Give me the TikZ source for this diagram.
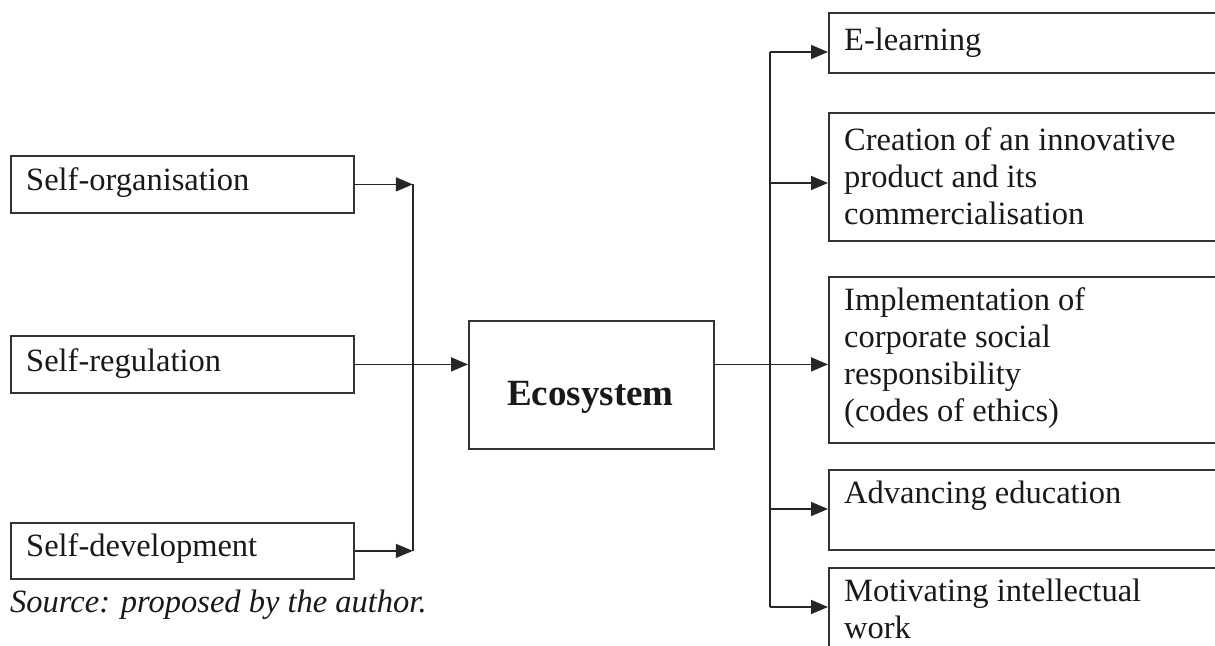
\documentclass[tikz,border=0pt]{standalone}
\usepackage{fontspec}
\setmainfont{Liberation Serif}
\usetikzlibrary{arrows.meta}
\begin{document}
\begin{tikzpicture}[x=1pt,y=-1pt,
  box/.style={draw=black!80, line width=1.8pt, rectangle, inner sep=0pt, anchor=north west},
  txt/.style={inner sep=0pt, anchor=north west, align=left, text=black!90, font=\fontsize{32.5}{37}\selectfont},
  conn/.style={draw=black!85, line width=1.7pt},
  arr/.style={conn, -{Triangle[length=17pt,width=14pt]}},
]
\useasboundingbox (0,0) rectangle (1215,645);
% left boxes
\node[box, minimum width=343pt, minimum height=57pt] (so) at (10,155) {};
\node[box, minimum width=343pt, minimum height=57pt] (sr) at (10,335) {};
\node[box, minimum width=343pt, minimum height=56pt] (sd) at (10,522) {};
\node[txt] (sot) at (26,167) {Self-organisation};
\node[txt] (srt) at (26,348) {Self-regulation};
\node[txt] (sdt) at (26,533) {Self-development};
% centre
\node[box, minimum width=245pt, minimum height=128pt] (eco) at (468,320) {};
\node[inner sep=0pt, anchor=base, text=black!90, font=\fontsize{37}{40}\selectfont\bfseries] (ecot) at (590.5,405) {Ecosystem};
% right boxes
\node[box, minimum width=397pt, minimum height=60pt] (el) at (828,12) {};
\node[box, minimum width=397pt, minimum height=128pt] (cr) at (828,112) {};
\node[box, minimum width=397pt, minimum height=166pt] (im) at (828,276) {};
\node[box, minimum width=397pt, minimum height=80pt] (ad) at (828,469) {};
\node[box, minimum width=397pt, minimum height=100pt] (mo) at (828,567) {};
\node[txt] (elt) at (844,28) {E-learning};
\node[txt] (crt) at (844,127) {Creation of an innovative\\product and its\\commercialisation};
\node[txt] (imt) at (844,287) {Implementation of\\corporate social\\responsibility\\(codes of ethics)};
\node[txt] (adt) at (844,481) {Advancing education};
\node[txt] (mot) at (844,579) {Motivating intellectual\\work};
% source
\node[inner sep=0pt, anchor=base west, text=black!90, font=\fontsize{32.5}{37}\selectfont\itshape] (src) at (10,612) {Source: proposed by the author.};
% left connectors
\draw[arr] (so.east) -- ++(58,0) coordinate (lj1);
\draw[arr] (sd.east) -- ++(58,0) coordinate (lj3);
\draw[conn] (lj1) -- (lj3);
\draw[arr] (sr.east) -- (sr.east -| eco.west);
% right connectors
\coordinate (r1) at (770,52);
\coordinate (r2) at (770,183);
\coordinate (r4) at (770,509);
\coordinate (r5) at (770,607);
\draw[conn] (r1) -- (r5);
\draw[arr] (r1) -- (r1 -| el.west);
\draw[arr] (r2) -- (r2 -| cr.west);
\draw[arr] (r4) -- (r4 -| ad.west);
\draw[arr] (r5) -- (r5 -| mo.west);
\draw[arr] (sr.east -| eco.east) -- (sr.east -| im.west);
\end{tikzpicture}
\end{document}
